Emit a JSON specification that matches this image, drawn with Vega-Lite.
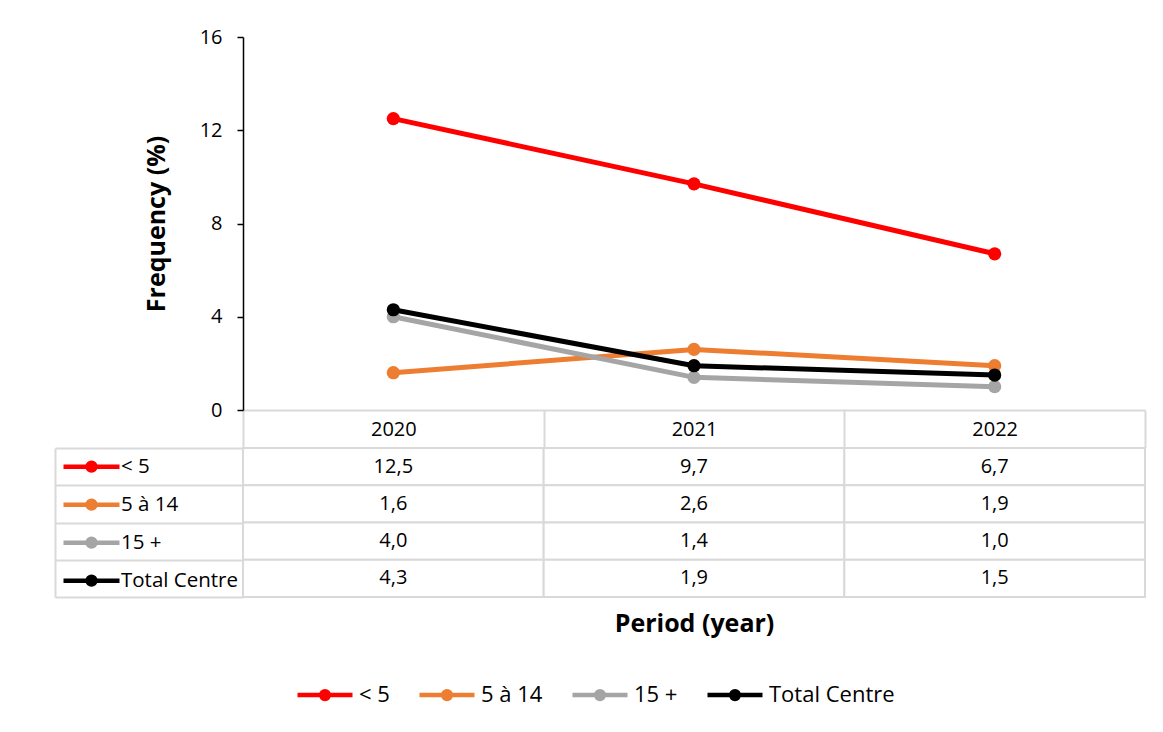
{
  "$schema": "https://vega.github.io/schema/vega-lite/v6.json",
  "background": "white",
  "padding": {"left": 54, "top": 27, "right": 17, "bottom": 10},
  "config": {
    "font": "Open Sans",
    "view": {"stroke": null},
    "locale": {"number": {"decimal": ",", "thousands": " ", "grouping": [3], "currency": ["", " €"]}},
    "axis": {"labelColor": "black", "titleColor": "black"},
    "legend": {"labelColor": "black"}
  },
  "datasets": {
    "freq": [
      {"series": "< 5", "year": 2020, "value": 12.5},
      {"series": "< 5", "year": 2021, "value": 9.7},
      {"series": "< 5", "year": 2022, "value": 6.7},
      {"series": "5 à 14", "year": 2020, "value": 1.6},
      {"series": "5 à 14", "year": 2021, "value": 2.6},
      {"series": "5 à 14", "year": 2022, "value": 1.9},
      {"series": "15 +", "year": 2020, "value": 4.0},
      {"series": "15 +", "year": 2021, "value": 1.4},
      {"series": "15 +", "year": 2022, "value": 1.0},
      {"series": "Total Centre", "year": 2020, "value": 4.3},
      {"series": "Total Centre", "year": 2021, "value": 1.9},
      {"series": "Total Centre", "year": 2022, "value": 1.5}
    ]
  },
  "bounds": "flush",
  "spacing": 38,
  "resolve": {"legend": {"color": "independent"}},
  "vconcat": [
    {
      "width": 902,
      "height": 373,
      "data": {"name": "freq"},
      "encoding": {
        "x": {
          "field": "year", "type": "ordinal",
          "scale": {"type": "band", "paddingInner": 0, "paddingOuter": 0},
          "axis": {
            "title": null, "labelAngle": 0, "labelFontSize": 20, "labelBaseline": "middle", "labelPadding": -19,
            "domainColor": "#d9d9d9", "domainWidth": 2,
            "tickBand": "extent", "tickSize": 38, "tickColor": "#d9d9d9", "tickWidth": 2
          }
        },
        "y": {
          "field": "value", "type": "quantitative",
          "scale": {"domain": [0, 16], "nice": false},
          "axis": {
            "title": "Frequency (%)", "values": [0, 4, 8, 12, 16], "grid": false,
            "domainColor": "black", "domainWidth": 1.5, "tickColor": "black", "tickWidth": 1.5, "tickSize": 6,
            "labelFontSize": 20, "labelPadding": 15,
            "titleFontSize": 25, "titleFontWeight": "bold", "titlePadding": 30
          }
        },
        "color": {
          "field": "series", "type": "nominal",
          "scale": {"domain": ["< 5", "5 à 14", "15 +", "Total Centre"], "range": ["#ff0000", "#ed7d31", "#a5a5a5", "#000000"]},
          "legend": {
            "orient": "none", "legendX": 52, "legendY": 628, "direction": "horizontal", "title": null, "padding": 0,
            "symbolType": "M-1,0H1M0,-0.14A0.14,0.14,0,1,1,0,0.14A0.14,0.14,0,1,1,0,-0.14Z",
            "symbolSize": 3025, "symbolStrokeWidth": 4.5,
            "labelFontSize": 22, "labelOffset": 4, "columnPadding": 20,
            "encode": {"symbols": {"update": {
              "fill": {"scale": "color", "field": "value"},
              "stroke": {"scale": "color", "field": "value"},
              "opacity": {"value": 1}
            }}}
          }
        }
      },
      "layer": [
        {"mark": {"type": "line", "strokeWidth": 5}},
        {"mark": {"type": "point", "filled": true, "size": 175, "opacity": 1}}
      ]
    },
    {
      "width": 902,
      "height": 149,
      "data": {"name": "freq"},
      "encoding": {
        "x": {
          "field": "year", "type": "ordinal",
          "scale": {"type": "band", "paddingInner": 0, "paddingOuter": 0},
          "axis": {
            "title": "Period (year)", "labels": false, "ticks": false, "domain": false,
            "titleFontSize": 25, "titleFontWeight": "bold", "titlePadding": 14
          }
        },
        "y": {
          "field": "series", "type": "nominal",
          "scale": {"domain": ["< 5", "5 à 14", "15 +", "Total Centre"], "paddingInner": 0, "paddingOuter": 0},
          "axis": {
            "title": null, "labels": false, "offset": 188,
            "domainColor": "#d9d9d9", "domainWidth": 2,
            "tickBand": "extent", "tickSize": -188, "tickColor": "#d9d9d9", "tickWidth": 2
          }
        }
      },
      "layer": [
        {"mark": {"type": "rect", "fill": "white", "stroke": "#d9d9d9", "strokeWidth": 2}},
        {
          "mark": {"type": "text", "fontSize": 20, "color": "black"},
          "encoding": {"text": {"field": "value", "type": "quantitative", "format": ".1f"}}
        },
        {
          "mark": {"type": "point", "opacity": 0},
          "encoding": {
            "color": {
              "field": "series", "type": "nominal",
              "scale": {"domain": ["< 5", "5 à 14", "15 +", "Total Centre"], "range": ["#ff0000", "#ed7d31", "#a5a5a5", "#000000"]},
              "legend": {
                "orient": "none", "legendX": -182, "legendY": 0, "direction": "vertical", "title": null, "padding": 0,
                "symbolType": "M-1,0H1M0,-0.14A0.14,0.14,0,1,1,0,0.14A0.14,0.14,0,1,1,0,-0.14Z",
                "symbolSize": 3136, "symbolStrokeWidth": 4.5,
                "labelFontSize": 20.5, "labelOffset": -1, "rowPadding": 0, "clipHeight": 37.25,
                "encode": {"symbols": {"update": {
                  "fill": {"scale": "color", "field": "value"},
                  "stroke": {"scale": "color", "field": "value"},
                  "opacity": {"value": 1}
                }}}
              }
            }
          }
        }
      ]
    }
  ]
}
